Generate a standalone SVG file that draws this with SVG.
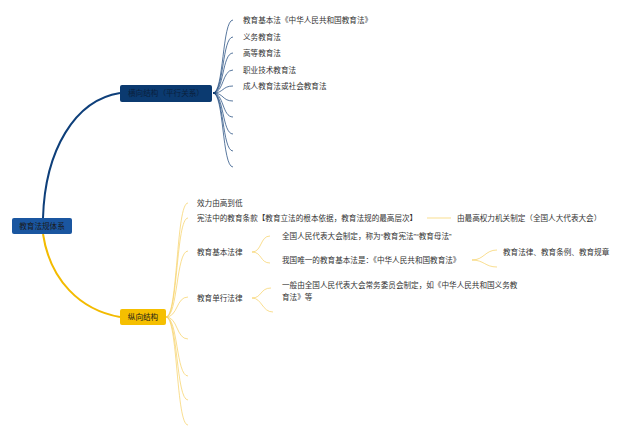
<svg xmlns="http://www.w3.org/2000/svg" width="640" height="437" viewBox="0 0 640 437">
<style>
text{font-family:"Liberation Sans","Noto Sans CJK SC",sans-serif;font-size:7.6px;fill:#333;dominant-baseline:central}
.nt{fill:#1a1a1a;font-size:7.6px;text-anchor:middle}
.b{fill:none;stroke:#123f75;stroke-width:0.7}
.y{fill:none;stroke:#f7d060;stroke-width:0.7}
</style>
<rect width="640" height="437" fill="#fff"/>
<g id="connectors">
<path d="M43,218 C45,150 75,100 120,93" fill="none" stroke="#0e3f7a" stroke-width="2"/>
<path d="M43,234 C50,280 80,310 120,317" fill="none" stroke="#f3bb00" stroke-width="2"/>
<path class="b" d="M213,93 C224,93 222,20 233,20"/>
<path class="b" d="M213,93 C224,93 222,37 233,37"/>
<path class="b" d="M213,93 C224,93 222,53 233,53"/>
<path class="b" d="M213,93 C224,93 222,70 233,70"/>
<path class="b" d="M213,93 C224,93 222,86 233,86"/>
<path class="b" d="M213,93 C224,93 222,101 233,101"/>
<path class="b" d="M213,93 C224,93 222,117 233,117"/>
<path class="b" d="M213,93 C224,93 222,134 233,134"/>
<path class="b" d="M213,93 C224,93 222,151 233,151"/>
<path class="b" d="M213,93 C224,93 222,167 233,167"/>
<path class="y" d="M166,317 C178,317 176,203 188,203"/>
<path class="y" d="M166,317 C178,317 176,218 188,218"/>
<path class="y" d="M166,317 C178,317 176,251 188,251"/>
<path class="y" d="M166,317 C178,317 176,297 188,297"/>
<path class="y" d="M166,317 C178,317 176,339 188,339"/>
<path class="y" d="M166,317 C178,317 176,376 188,376"/>
<path class="y" d="M166,317 C178,317 176,400 188,400"/>
<path class="y" d="M166,317 C178,317 176,425 188,425"/>
<path class="y" d="M427,218 L451,218"/>
<path class="y" d="M252,252 C262,252 260,236 270,236"/>
<path class="y" d="M252,252 C262,252 260,263 270,263"/>
<path class="y" d="M252,298 C262,298 260,288 271,288"/>
<path class="y" d="M252,298 C262,298 262,312 273,312"/>
<path class="y" d="M472,260 C484,260 485,250 497,250"/>
<path class="y" d="M472,260 C484,260 485,267 497,267"/>
</g>
<g id="root"><rect x="12" y="218" width="60" height="16" rx="2" fill="#1a56a0"/><text class="nt" x="42" y="226">教育法规体系</text></g>
<g id="horizontal"><rect x="120" y="85" width="92" height="17" rx="2" fill="#0b3a70"/><text class="nt" x="166" y="93.5" style="fill:#0a1f3c">横向结构（平行关系）</text></g>
<g id="vertical"><rect x="120" y="309" width="46" height="16" rx="2" fill="#f5bf00"/><text class="nt" x="143" y="317">纵向结构</text></g>
<g id="h1"><text x="243" y="20">教育基本法《中华人民共和国教育法》</text></g>
<g id="h2"><text x="243" y="37">义务教育法</text></g>
<g id="h3"><text x="243" y="53">高等教育法</text></g>
<g id="h4"><text x="243" y="70">职业技术教育法</text></g>
<g id="h5"><text x="243" y="86">成人教育法或社会教育法</text></g>
<g id="v1"><text x="197" y="203">效力由高到低</text></g>
<g id="v2"><text x="197" y="218">宪法中的教育条款【教育立法的根本依据，教育法规的最高层次】</text></g>
<g id="v2a"><text x="457" y="218">由最高权力机关制定（全国人大代表大会）</text></g>
<g id="v3"><text x="197" y="252">教育基本法律</text></g>
<g id="v3a"><text x="282" y="236">全国人民代表大会制定，称为“教育宪法”“教育母法”</text></g>
<g id="v3b"><text x="282" y="260">我国唯一的教育基本法是：《中华人民共和国教育法》</text></g>
<g id="v3b1"><text x="503" y="252">教育法律、教育条例、教育规章</text></g>
<g id="v4"><text x="197" y="298">教育单行法律</text></g>
<g id="v4a"><text x="282" y="285">一般由全国人民代表大会常务委员会制定，如《中华人民共和国义务教</text><text x="282" y="297">育法》等</text></g>
</svg>
